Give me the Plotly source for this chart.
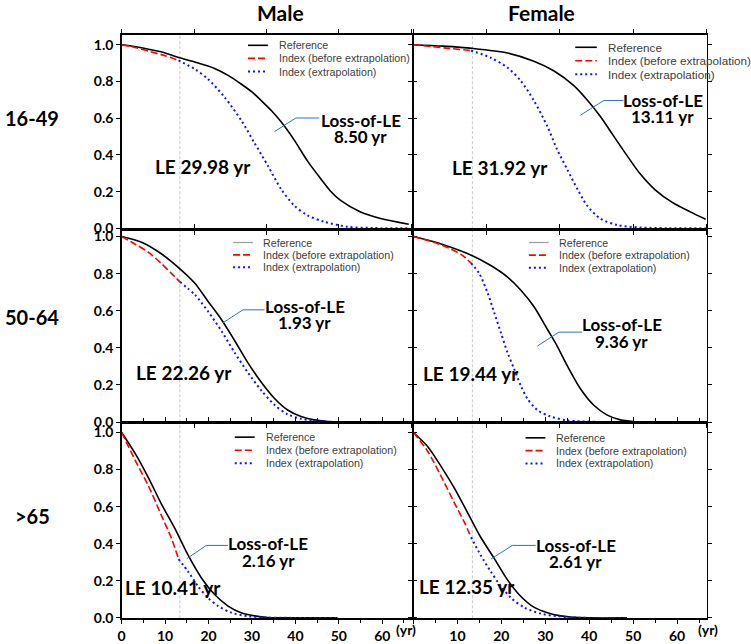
import plotly.graph_objects as go

W, H = 751, 644

# ---------------- data ----------------
# Male 16-49
m1649_ref_t = [0, 3, 6.2, 10, 13.3, 17, 21.4, 24.5, 27.5, 30, 32.1, 34.5, 36.7, 39.7, 42.8, 45.9, 48, 50.4, 55, 59.6, 66.1]
m1649_ref_s = [1.0, 0.99, 0.975, 0.955, 0.929, 0.905, 0.871, 0.833, 0.786, 0.743, 0.696, 0.640, 0.580, 0.482, 0.366, 0.268, 0.205, 0.152, 0.089, 0.054, 0.023]
m1649_bef_t = [0, 3, 6.2, 10, 13.1]
m1649_bef_s = [1.0, 0.985, 0.965, 0.94, 0.914]
m1649_ext_t = [13.1, 16.9, 19.9, 23.7, 27.5, 30.6, 33.7, 36.7, 39.7, 42.8, 46.6, 52, 58, 66.5]
m1649_ext_s = [0.914, 0.866, 0.8125, 0.714, 0.589, 0.464, 0.339, 0.214, 0.125, 0.071, 0.036, 0.009, 0.002, 0.0]

# Female 16-49
f1649_ref_t = [0, 6.7, 13.4, 21.4, 27.4, 32, 36.5, 39.5, 42.5, 45.5, 48.5, 51.5, 55, 59, 63, 66.5]
f1649_ref_s = [1.0, 0.992, 0.98, 0.955, 0.91, 0.857, 0.777, 0.70, 0.61, 0.505, 0.40, 0.30, 0.21, 0.14, 0.09, 0.05]
f1649_bef_t = [0, 4, 8, 13.1]
f1649_bef_s = [1.0, 0.99, 0.98, 0.968]
f1649_ext_t = [13.1, 17.6, 21.4, 24.4, 27.4, 30.5, 32.7, 35, 37.3, 39.5, 42.5, 46.4, 51.6, 58, 66.8]
f1649_ext_s = [0.968, 0.929, 0.875, 0.804, 0.696, 0.554, 0.429, 0.321, 0.214, 0.125, 0.054, 0.018, 0.005, 0.001, 0.0]

# Male 50-64
m5064_ref_t = [0, 4.7, 9.2, 13.8, 16.9, 19.9, 23, 26, 29, 32.1, 35.2, 38.2, 41.3, 44.3, 47, 49.7]
m5064_ref_s = [1.0, 0.968, 0.906, 0.818, 0.747, 0.650, 0.552, 0.440, 0.322, 0.216, 0.127, 0.065, 0.030, 0.012, 0.004, 0.0]
m5064_bef_t = [0, 3.1, 6.2, 9.2, 11.5, 13.4]
m5064_bef_s = [1.0, 0.959, 0.915, 0.853, 0.8, 0.756]
m5064_ext_t = [13.4, 16.9, 19.9, 23, 26, 29, 32.1, 35.2, 38.2, 41.3, 45.9, 49.7]
m5064_ext_s = [0.756, 0.685, 0.596, 0.49, 0.375, 0.269, 0.172, 0.092, 0.042, 0.018, 0.004, 0.0]

# Female 50-64
f5064_ref_t = [0, 6.3, 13.4, 17.6, 21.4, 24.4, 27.4, 30.5, 32.7, 35, 38, 41, 44, 47.1, 50.1]
f5064_ref_s = [1.0, 0.96, 0.897, 0.844, 0.782, 0.712, 0.623, 0.499, 0.41, 0.304, 0.18, 0.092, 0.039, 0.012, 0.003]
f5064_bef_t = [0, 4.8, 8.5, 11.2, 13.1]
f5064_bef_s = [1.0, 0.968, 0.933, 0.897, 0.857]
f5064_ext_t = [13.1, 15, 16.9, 18.4, 19.9, 21.4, 22.9, 24.4, 25.9, 28.2, 31.2, 35, 42, 50.1]
f5064_ext_s = [0.857, 0.8, 0.694, 0.588, 0.481, 0.375, 0.287, 0.198, 0.127, 0.065, 0.03, 0.009, 0.001, 0.0]

# Male >65
m65_ref_t = [0, 3.1, 6.2, 9.2, 12.3, 15.3, 18.4, 21.4, 24.5, 27.5, 30.6, 33.6, 40, 49.7]
m65_ref_s = [1.0, 0.887, 0.754, 0.612, 0.48, 0.338, 0.214, 0.126, 0.064, 0.028, 0.011, 0.002, 0.0, 0.0]
m65_bef_t = [0, 3.1, 6.2, 9.2, 11.5, 13.1]
m65_bef_s = [1.0, 0.851, 0.71, 0.55, 0.427, 0.317]
m65_ext_t = [13.1, 15.3, 17.6, 19.9, 22.2, 25.3, 29.1, 33.6, 40, 49.7]
m65_ext_s = [0.317, 0.25, 0.17, 0.108, 0.064, 0.028, 0.009, 0.002, 0.0, 0.0]

# Female >65
f65_ref_t = [0, 3.3, 6.3, 9.3, 12.3, 15.3, 18.4, 21.4, 24.4, 27.4, 30.5, 33.5, 35.7, 40, 48.6]
f65_ref_s = [1.0, 0.922, 0.816, 0.7, 0.568, 0.435, 0.32, 0.205, 0.117, 0.058, 0.028, 0.011, 0.005, 0.0, 0.0]
f65_bef_t = [0, 3.3, 6.3, 9.3, 11.6, 13.1]
f65_bef_s = [1.0, 0.896, 0.763, 0.621, 0.515, 0.435]
f65_ext_t = [13.1, 15.3, 17.6, 19.9, 22.2, 25.3, 29, 32.8, 36.6, 40, 48.6]
f65_ext_s = [0.435, 0.338, 0.25, 0.17, 0.108, 0.055, 0.023, 0.009, 0.002, 0.0, 0.0]

cutoff_t = 13.4
le_values = ["29.98", "31.92", "22.26", "19.44", "10.41", "12.35"]
loss_values = ["8.50", "13.11", "1.93", "9.36", "2.16", "2.61"]
row_labels = ["16-49", "50-64", ">65"]
col_labels = ["Male", "Female"]
legend_labels = ["Reference", "Index (before extrapolation)", "Index (extrapolation)"]
x_ticks = [0, 10, 20, 30, 40, 50, 60]
y_ticks = [0.0, 0.2, 0.4, 0.6, 0.8, 1.0]

panels = [
    (m1649_ref_t, m1649_ref_s, m1649_bef_t, m1649_bef_s, m1649_ext_t, m1649_ext_s),
    (f1649_ref_t, f1649_ref_s, f1649_bef_t, f1649_bef_s, f1649_ext_t, f1649_ext_s),
    (m5064_ref_t, m5064_ref_s, m5064_bef_t, m5064_bef_s, m5064_ext_t, m5064_ext_s),
    (f5064_ref_t, f5064_ref_s, f5064_bef_t, f5064_bef_s, f5064_ext_t, f5064_ext_s),
    (m65_ref_t, m65_ref_s, m65_bef_t, m65_bef_s, m65_ext_t, m65_ext_s),
    (f65_ref_t, f65_ref_s, f65_bef_t, f65_bef_s, f65_ext_t, f65_ext_s),
]

# ---------------- layout geometry (page pixels) ----------------
col_px = [(118.3, 410.0), (411.7, 706.7)]
row_px = [(33.3, 230.7), (231.5, 426.9), (427.3, 626.0)]
y_ranges = [(-0.004, 1.054), (-0.001, 1.036), (-0.002, 1.053)]
x_range = (0, 66.8)

loss_pos = [(55.0, 0.589, 0.50), (56.7, 0.696, 0.611), (42.2, 0.623, 0.538),
            (47.4, 0.526, 0.437), (33.8, 0.40, 0.311), (36.9, 0.391, 0.303)]
leader_pts = [
    [(35.2, 0.527), (40.1, 0.601), (45.5, 0.601)],
    [(38.0, 0.616), (43.3, 0.696), (47.8, 0.696)],
    [(23.3, 0.535), (27.9, 0.605), (32.9, 0.605)],
    [(28.2, 0.41), (33.1, 0.485), (38.4, 0.485)],
    [(15.0, 0.32), (19.5, 0.391), (24.5, 0.391)],
    [(17.6, 0.317), (22.5, 0.391), (27.8, 0.391)],
]
le_pos = [(18.7, 0.336), (19.6, 0.33), (14.4, 0.269), (13.2, 0.26), (11.9, 0.165), (12.2, 0.17)]
# legend block: sample x0, sample x1, text x, first row y, row step, font size
legend_px = [(245.3, 265.3, 274.3, 44.0, 13.3, 10.7), (574.3, 596.0, 605.3, 46.0, 13.7, 11.7),
             (230.3, 250.3, 258.7, 244.3, 12.6, 10.7), (527.7, 547.7, 556.0, 244.3, 12.8, 10.7),
             (232.0, 252.0, 261.0, 442.0, 13.3, 10.7), (524.3, 544.3, 553.3, 442.7, 13.0, 10.7)]


def px(x, y):
    return x / W, 1 - y / H


BOLD = dict(family="Lato", weight="bold", color="black")
TICKFONT = dict(family="Lato", weight="bold", size=14, color="black")
RED_DASH = "7px,3px"
BLUE_DOT = "2px,3px"

fig = go.Figure()
shapes = []
annotations = []
layout = {}

for i, (rt, rs, bt, bs, et, es) in enumerate(panels):
    r, c = divmod(i, 2)
    k = i + 1
    xs = "" if k == 1 else str(k)
    xa, ya = "x" + xs, "y" + xs
    x0p, x1p = col_px[c]
    y0p, y1p = row_px[r]
    bottom = r == 2
    dx0, dy1 = px(x0p, y0p)
    dx1, dy0 = px(x1p, y1p)

    xaxis = dict(
        domain=[dx0, dx1], anchor=ya, range=list(x_range),
        showline=True, linecolor="black", linewidth=1.5, mirror="ticks",
        ticks="outside", ticklen=4, tickcolor="black", tickwidth=1,
        showgrid=False, zeroline=False, tickfont=TICKFONT,
    )
    if bottom:
        xaxis.update(tickmode="array", tickvals=x_ticks,
                     ticktext=[("" if (c == 1 and v == 0) else str(v)) for v in x_ticks],
                     showticklabels=True,
                     minor=dict(dtick=5, tick0=0, ticks="outside", ticklen=3, tickcolor="black"))
    else:
        xaxis.update(tickmode="linear", tick0=0, dtick=50 / 3, showticklabels=False)
    layout["xaxis" + xs] = xaxis
    layout["yaxis" + xs] = dict(
        domain=[dy0, dy1], anchor=xa, range=list(y_ranges[r]),
        showline=True, linecolor="black", linewidth=1.5, mirror="ticks",
        ticks="outside", ticklen=4, tickcolor="black", tickwidth=1,
        showgrid=False, zeroline=False,
        tickmode="array", tickvals=y_ticks, ticktext=[f"{v:.1f}" for v in y_ticks],
        showticklabels=(c == 0), tickfont=TICKFONT,
    )

    # cut-off dashed line
    shapes.append(dict(type="line", xref=xa, yref=ya + " domain", x0=cutoff_t, x1=cutoff_t,
                       y0=0, y1=1, line=dict(color="#c8c8c8", width=1, dash="3px,2px"), layer="below"))

    fig.add_trace(go.Scatter(x=rt, y=rs, xaxis=xa, yaxis=ya, mode="lines", showlegend=False,
                             line=dict(color="black", width=1.6, shape="spline", smoothing=0.8),
                             name=legend_labels[0]))
    fig.add_trace(go.Scatter(x=et, y=es, xaxis=xa, yaxis=ya, mode="lines", showlegend=False,
                             line=dict(color="#1010ff", width=2, dash=BLUE_DOT, shape="spline", smoothing=0.8),
                             name=legend_labels[2]))
    fig.add_trace(go.Scatter(x=bt, y=bs, xaxis=xa, yaxis=ya, mode="lines", showlegend=False,
                             line=dict(color="#ff0000", width=1.6, dash=RED_DASH, shape="spline", smoothing=0.8),
                             name=legend_labels[1]))

    # leader line
    pts = leader_pts[i]
    path = "M " + " L ".join(f"{a},{b}" for a, b in pts)
    shapes.append(dict(type="path", xref=xa, yref=ya, path=path,
                       line=dict(color="#2e75b6", width=1)))

    lx, ly1, ly2 = loss_pos[i]
    annotations.append(dict(x=lx, y=ly1, xref=xa, yref=ya, text="Loss-of-LE", showarrow=False,
                            font=dict(BOLD, size=17), xanchor="center", yanchor="middle"))
    annotations.append(dict(x=lx, y=ly2, xref=xa, yref=ya, text=f"{loss_values[i]} yr", showarrow=False,
                            font=dict(BOLD, size=17), xanchor="center", yanchor="middle"))
    ex, ey = le_pos[i]
    annotations.append(dict(x=ex, y=ey, xref=xa, yref=ya, text=f"LE {le_values[i]} yr", showarrow=False,
                            font=dict(BOLD, size=19), xanchor="center", yanchor="middle"))

    # legend drawn per panel
    sx0, sx1, tx, ty, step, fs = legend_px[i]
    styles = [dict(color="#a0a0a0" if r == 1 else "black", width=1.3 if r == 1 else 1.6),
              dict(color="#ff0000", width=1.6, dash=RED_DASH),
              dict(color="#1010ff", width=2, dash=BLUE_DOT)]
    for j, lab in enumerate(legend_labels):
        yy = ty + j * step
        a0, b0 = px(sx0, yy)
        a1, _ = px(sx1, yy)
        shapes.append(dict(type="line", xref="paper", yref="paper", x0=a0, x1=a1, y0=b0, y1=b0,
                           line=styles[j]))
        ta, tb = px(tx, yy)
        annotations.append(dict(x=ta, y=tb, xref="paper", yref="paper", text=lab, showarrow=False,
                                xanchor="left", yanchor="middle",
                                font=dict(family="Liberation Sans, Arial, sans-serif", size=fs,
                                          color="#404040")))

    if bottom:
        ya_, yb_ = px(404.0 if c == 0 else 707.7, 637.0)
        annotations.append(dict(x=ya_, y=yb_, xref="paper", yref="paper", text="(yr)", showarrow=False,
                                xanchor="center", yanchor="middle", font=TICKFONT))

# row and column titles
row_centers = [118, 320, 521.7]
for lab, yc in zip(row_labels, row_centers):
    a, b = px(28.5, yc)
    annotations.append(dict(x=a, y=b, xref="paper", yref="paper", text=lab, showarrow=False,
                            xanchor="center", yanchor="middle", font=dict(BOLD, size=20)))
for lab, xc in zip(col_labels, [278, 540]):
    a, b = px(xc, 11)
    annotations.append(dict(x=a, y=b, xref="paper", yref="paper", text=lab, showarrow=False,
                            xanchor="center", yanchor="middle", font=dict(BOLD, size=21)))

fig.update_layout(
    width=W, height=H, margin=dict(l=0, r=0, t=0, b=0),
    paper_bgcolor="white", plot_bgcolor="white", hovermode=False,
    showlegend=False, shapes=shapes, annotations=annotations, **layout,
)

# remove the default page margin so the chart sits at the top-left corner of the window
fig.write_html("out.html", config={"displayModeBar": False, "staticPlot": True},
               post_script="document.body.style.margin='0';")
